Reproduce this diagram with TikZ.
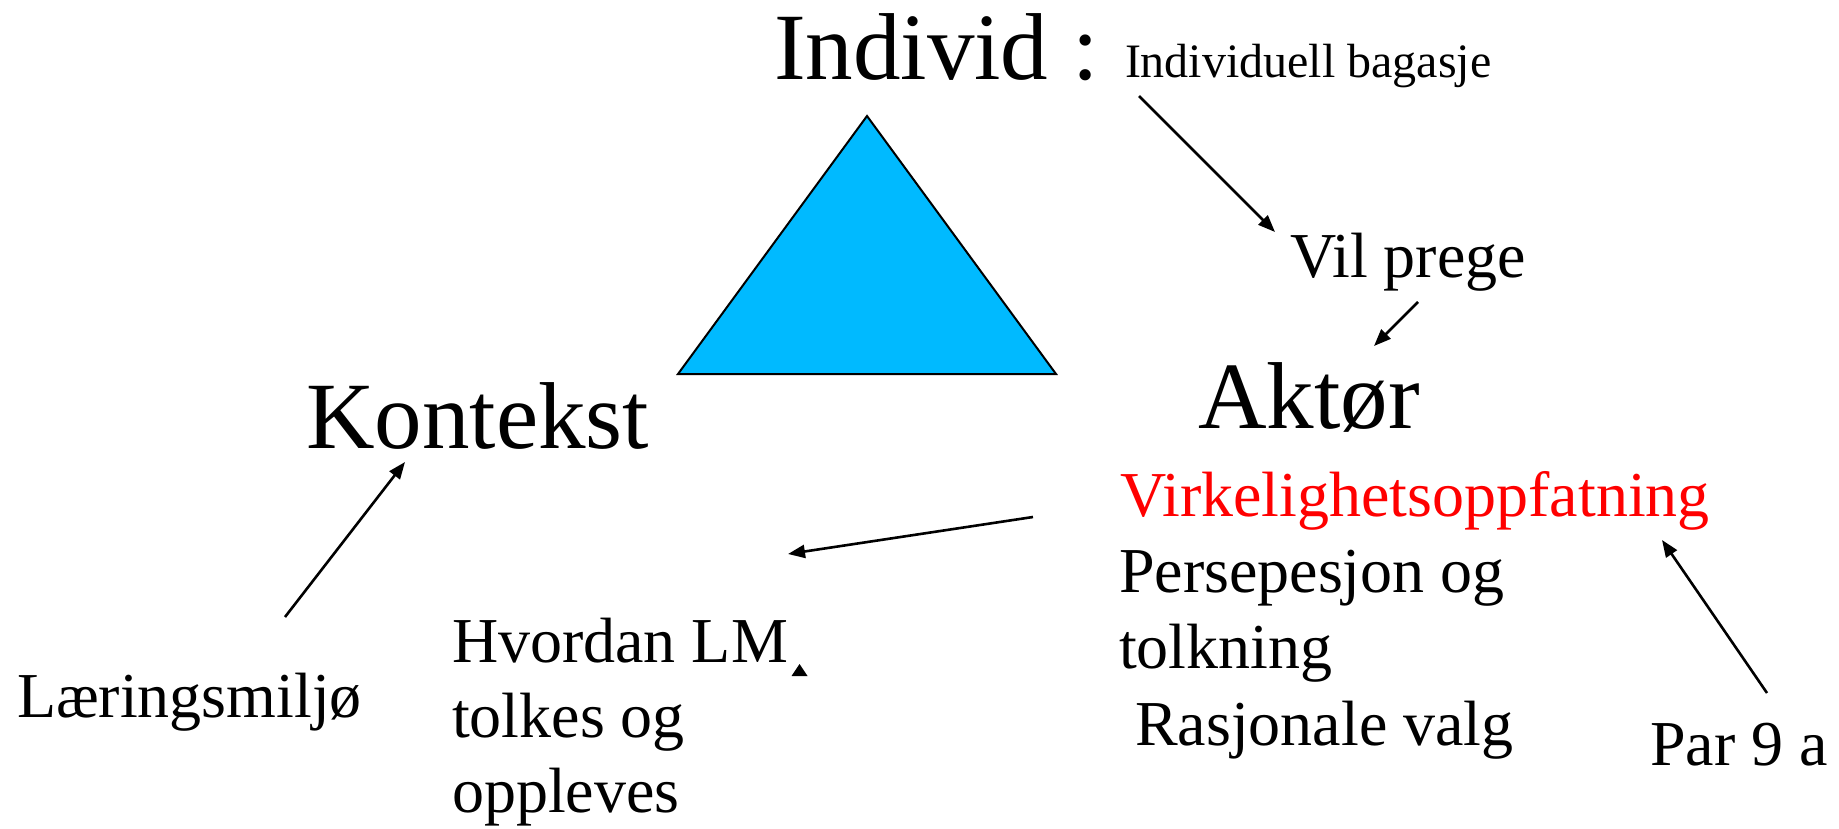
\documentclass[tikz,border=0pt]{standalone}
\usepackage{fontspec}
\setmainfont{Liberation Serif}
\usetikzlibrary{arrows.meta}
\definecolor{tricyan}{RGB}{0,186,255}
\definecolor{redtxt}{RGB}{255,0,0}
\tikzset{
  lbl/.style={anchor=base west,inner sep=0pt,outer sep=0pt,text=black},
  big/.style={lbl,font=\fontsize{95}{114}\selectfont},
  mid/.style={lbl,font=\fontsize{64}{76}\selectfont},
  small/.style={lbl,font=\fontsize{48}{58}\selectfont},
  conn/.style={line width=2.6pt,-{Triangle[length=17pt,width=13pt]}},
}
\begin{document}
\begin{tikzpicture}[x=1pt,y=-1pt]
\useasboundingbox (0,0) rectangle (1839,829);
% triangle
\draw[fill=tricyan,line width=2pt,line join=miter] (867,116) -- (1056,374) -- (678,374) -- cycle;
% texts
\node[big] (individ) at (774,80) {Individ :};
\node[small] (bagasje) at (1125,78) {Individuell bagasje};
\node[mid] (vilprege) at (1290,277) {Vil prege};
\node[big] (kontekst) at (306,448) {Kontekst};
\node[big] (aktor) at (1198,428) {Aktør};
\node[mid,text=redtxt] (virk) at (1120,516) {Virkelighetsoppfatning};
\node[mid] (pers) at (1119,592) {Persepesjon og};
\node[mid] (tolk) at (1119,668) {tolkning};
\node[mid] (rasj) at (1119,745) {\ Rasjonale valg};
\node[mid] (par) at (1650,765) {Par 9 a};
\node[mid] (laering) at (17,717) {Læringsmiljø};
\node[mid] (hvordan) at (452,662) {Hvordan LM};
\node[mid] (tolkes) at (452,737) {tolkes og};
\node[mid] (opplev) at (452,812) {oppleves};
% connector end points
\coordinate (a1s) at (1139,96);
\coordinate (a1e) at (1275,232);
\coordinate (a2s) at (1418,302);
\coordinate (a2e) at (1374,346);
\coordinate (a3s) at (1033,517);
\coordinate (a3e) at (788,554);
\coordinate (a4s) at (285,617);
\coordinate (a4e) at (405,462);
\coordinate (a5s) at (1767,693);
\coordinate (a5e) at (1662,540);
\draw[conn] (a1s) -- (a1e);
\draw[conn] (a2s) -- (a2e);
\draw[conn] (a3s) -- (a3e);
\draw[conn] (a4s) -- (a4e);
\draw[conn] (a5s) -- (a5e);
% lone arrow head
\coordinate (lm) at (799.5,664);
\fill (lm) -- ++(8,12) -- ++(-16,0) -- cycle;
\end{tikzpicture}
\end{document}
